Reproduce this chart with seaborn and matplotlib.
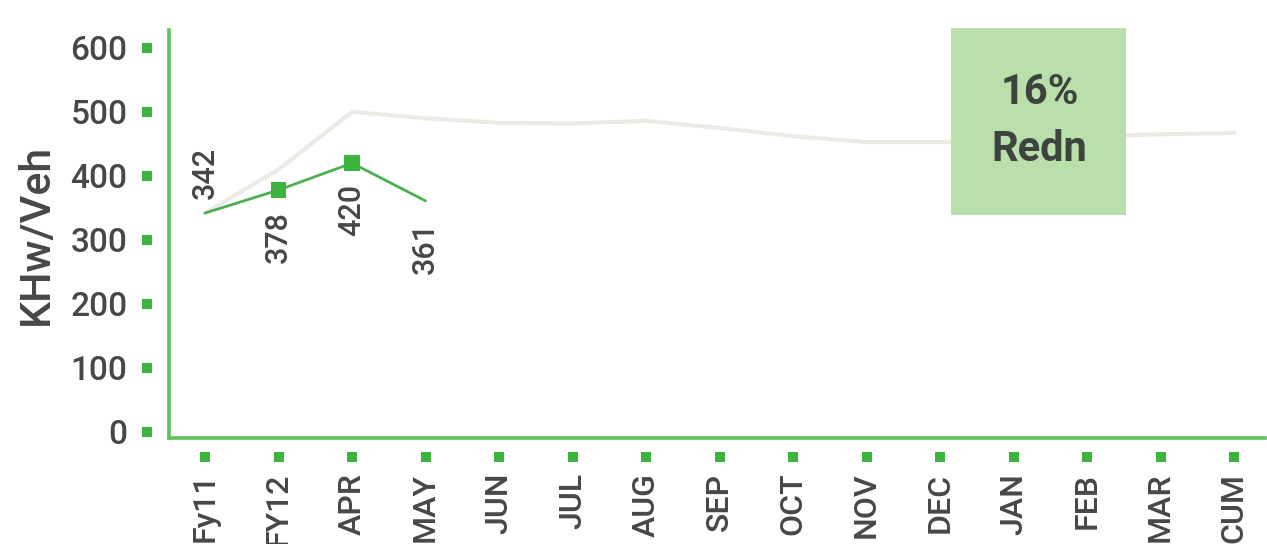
import numpy as np
import pandas as pd
import matplotlib
matplotlib.use("Agg")
import matplotlib.pyplot as plt
import matplotlib.transforms as mtransforms
from matplotlib.patches import Rectangle
import seaborn as sns

# Monthly energy use per vehicle (KHw/Veh)
months = ["Fy11", "FY12", "APR", "MAY", "JUN", "JUL", "AUG", "SEP",
          "OCT", "NOV", "DEC", "JAN", "FEB", "MAR", "CUM"]
baseline_kwh = [342, 410, 500, 490, 483, 482, 486, 475, 462, 453, 453, 455, 462, 465, 467]
actual_kwh = [342, 378, 420, 361]
y_ticks = [0, 100, 200, 300, 400, 500, 600]
reduction_lines = ["16%", "Redn"]

sns.set_theme(style="white")
plt.rcParams["font.family"] = ["Roboto", "DejaVu Sans"]

GREEN_AXIS = "#5cc25c"
GREEN_LINE = "#4caf50"
GREEN_MARK = "#3cb43c"
BASE_GREY = "#ebebe6"
TEXT = "#474747"

fig = plt.figure(figsize=(12.67, 5.44), dpi=100)
ax = fig.add_axes([0.1334, 0.1949, 0.865, 0.75])

pos = np.arange(len(months))
base_df = pd.DataFrame({"pos": pos, "kwh": baseline_kwh})
act_df = pd.DataFrame({"pos": pos[:len(actual_kwh)], "kwh": actual_kwh})

sns.lineplot(data=base_df, x="pos", y="kwh", ax=ax, color=BASE_GREY, lw=3, zorder=1)
sns.lineplot(data=act_df, x="pos", y="kwh", ax=ax, color=GREEN_LINE, lw=2, zorder=3)
sns.scatterplot(data=act_df.iloc[1:3], x="pos", y="kwh", ax=ax, marker="s", s=130,
                color=GREEN_MARK, edgecolor="none", zorder=4)

# value labels along the actual series
for i, v in enumerate(actual_kwh):
    above = i == 0
    ax.annotate(str(v), (pos[i], v), xytext=(0, 10 if above else -15),
                textcoords="offset points", rotation=90, ha="center",
                va="bottom" if above else "top", fontsize=22, fontweight="medium",
                color=TEXT)

# reduction call-out box
ax.add_patch(Rectangle((10.15, 339), 2.38, 292, facecolor="#b9dfaa", edgecolor="none",
                       zorder=5, clip_on=False))
ax.text(11.35, 531, reduction_lines[0], ha="center", va="center", fontsize=30,
        fontweight="bold", color="#3d433d", zorder=6)
ax.text(11.35, 441, reduction_lines[1], ha="center", va="center", fontsize=30,
        fontweight="bold", color="#3d433d", zorder=6)

ax.set_xlim(-0.49, 14.42)
ax.set_ylim(-9.4, 628)
ax.set_xticks(pos, months)
ax.set_yticks(y_ticks)
ax.tick_params(axis="y", length=0, pad=30, labelsize=24, labelcolor=TEXT)
ax.tick_params(axis="x", length=0, pad=25, labelsize=23, labelcolor=TEXT, rotation=90)
for lab in ax.get_xticklabels() + ax.get_yticklabels():
    lab.set_fontweight("medium")
ax.set_xlabel("")
ax.set_ylabel("KHw/Veh", fontsize=31, color=TEXT, fontweight="medium")
ax.yaxis.set_label_coords(-0.102, 0.5)

sns.despine(ax=ax)
for side in ("left", "bottom"):
    ax.spines[side].set_color(GREEN_AXIS)
    ax.spines[side].set_linewidth(2.6)

# square tick markers set apart from the axis lines
ytrans = mtransforms.offset_copy(ax.get_yaxis_transform(), fig=fig, x=-22, y=0, units="dots")
ax.scatter(np.zeros(len(y_ticks)), y_ticks, transform=ytrans, marker="s", s=55,
           color=GREEN_MARK, linewidths=0, clip_on=False)
xtrans = mtransforms.offset_copy(ax.get_xaxis_transform(), fig=fig, x=0, y=-19, units="dots")
ax.scatter(pos, np.zeros(len(pos)), transform=xtrans, marker="s", s=50,
           color=GREEN_MARK, linewidths=0, clip_on=False)

ax.set_xlim(-0.49, 14.42)
ax.set_ylim(-9.4, 628)

fig.savefig("out.png", dpi=100)
